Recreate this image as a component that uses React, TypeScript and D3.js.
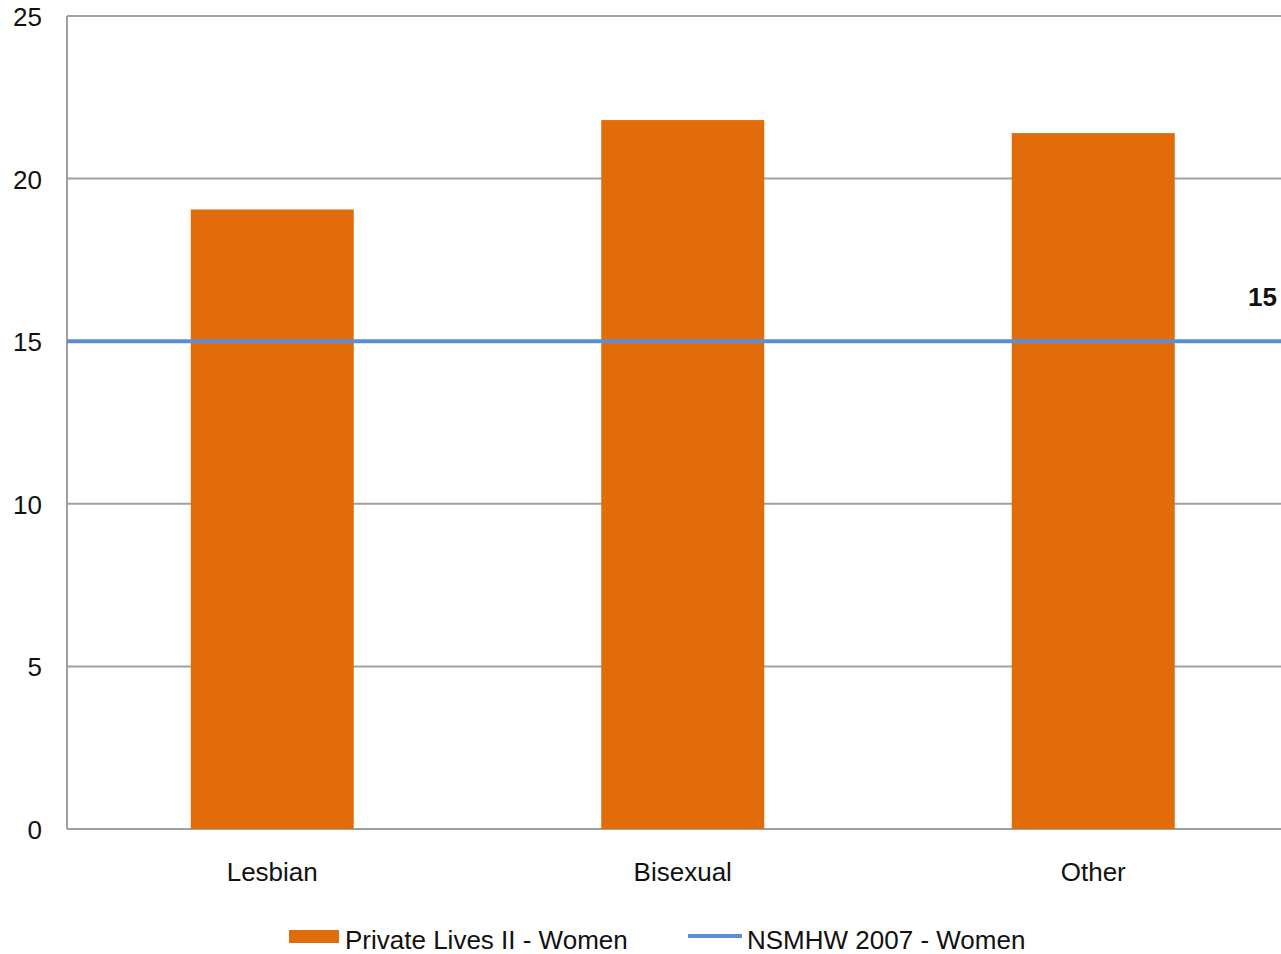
import React from "react";
import * as d3 from "d3";

const categories = ["Lesbian", "Bisexual", "Other"];
const privateLivesValues = [19.05, 21.8, 21.4];
const nsmhwValue = 15;
const yTicks = [0, 5, 10, 15, 20, 25];
const seriesNames = ["Private Lives II - Women", "NSMHW 2007 - Women"];

const W = 1281;
const H = 954;
const left = 67;
const top = 16;
const bottom = 829;
const right = 1298.5;
const ORANGE = "#E36C0A";
const BLUE = "#5B8ED6";
const GRID = "#A0A0A0";
const FONT = "Liberation Sans, Arial, sans-serif";
const FS = 26;

export default function App() {
  const y = d3.scaleLinear().domain([0, 25]).range([bottom, top]);
  const x = d3.scaleBand<string>().domain(categories).range([left, right]);
  const step = x.step();
  const bw = step * 0.397;
  const barX = (c: string) => (x(c) as number) + (step - bw) / 2;

  return (
    <div style={{ position: "absolute", left: 0, top: 0 }}>
      <svg width={W} height={H} style={{ display: "block" }}>
        <rect width={W} height={H} fill="#fff" />
        {yTicks.map((t) => (
          <g key={t}>
            <line x1={left} x2={right} y1={y(t)} y2={y(t)} stroke={GRID} strokeWidth={2} />
            <text
              x={42}
              y={y(t) + 10}
              textAnchor="end"
              fontFamily={FONT}
              fontSize={FS}
              fill="#111"
            >
              {t}
            </text>
          </g>
        ))}
        <line x1={left} x2={left} y1={top} y2={bottom} stroke={GRID} strokeWidth={2} />
        {categories.map((c, i) => (
          <g key={c}>
            <rect
              x={barX(c)}
              y={y(privateLivesValues[i])}
              width={bw}
              height={bottom - y(privateLivesValues[i])}
              fill={ORANGE}
            />
            <text
              x={barX(c) + bw / 2}
              y={881}
              textAnchor="middle"
              fontFamily={FONT}
              fontSize={FS}
              fill="#111"
            >
              {c}
            </text>
          </g>
        ))}
        <line
          x1={left}
          x2={right}
          y1={y(nsmhwValue)}
          y2={y(nsmhwValue)}
          stroke={BLUE}
          strokeWidth={4}
        />
        <text
          x={1277}
          y={306}
          textAnchor="end"
          fontFamily={FONT}
          fontSize={FS}
          fontWeight="bold"
          fill="#111"
        >
          {nsmhwValue}
        </text>
        {/* legend */}
        <rect x={289} y={930} width={50} height={13} fill={ORANGE} />
        <text x={345} y={949} fontFamily={FONT} fontSize={FS} fill="#111">
          {seriesNames[0]}
        </text>
        <line x1={688} x2={742} y1={936} y2={936} stroke={BLUE} strokeWidth={4} />
        <text x={747} y={949} fontFamily={FONT} fontSize={FS} fill="#111">
          {seriesNames[1]}
        </text>
      </svg>
    </div>
  );
}
